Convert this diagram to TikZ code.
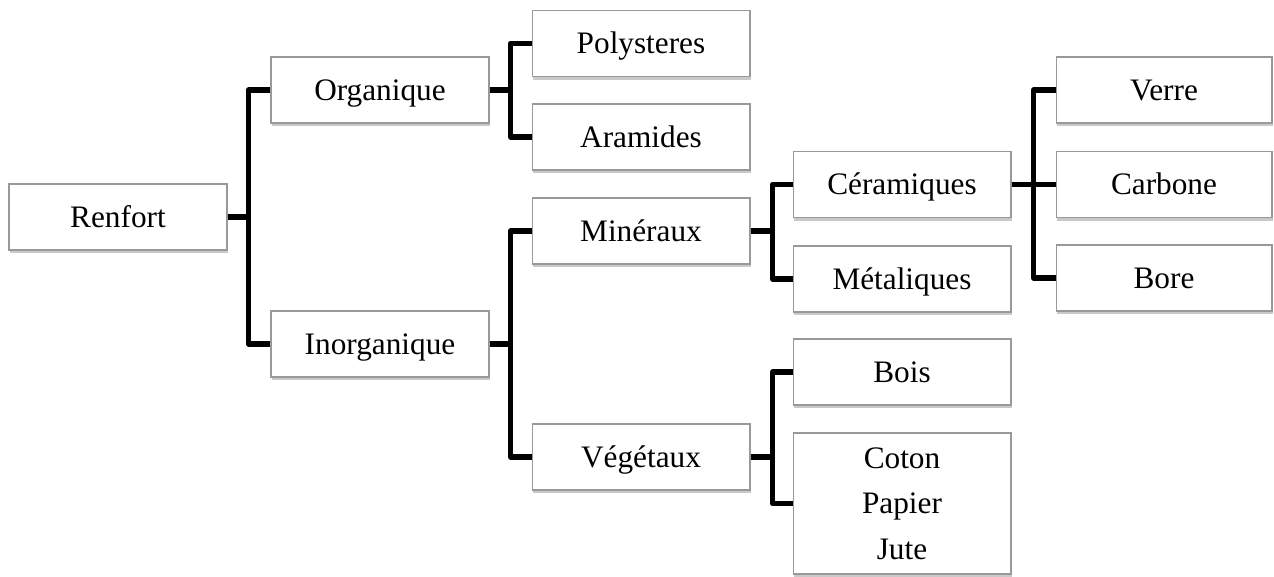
\documentclass[tikz,border=0pt]{standalone}
\usepackage{fontspec}
\setmainfont{Liberation Serif}
\usepackage{tikz}
\usetikzlibrary{shadows, calc}

\begin{document}
\begin{tikzpicture}[x=0.02cm, y=-0.02cm,
    font=\fontsize{17.8}{26}\selectfont,
    box/.style={draw=black!40, line width=0.6pt, fill=white, minimum width=4.36cm, minimum height=1.32cm,
        text height=11.8pt, text depth=0pt,
        drop shadow={shadow xshift=0.7pt, shadow yshift=-1.8pt, opacity=0.3, fill=black!70}},
    link/.style={line width=3.1pt, line join=round}
]
    \useasboundingbox (0,0) rectangle (1274,577);

    \node[box] (renfort) at (118,217) {Renfort};

    \node[box] (org) at (380,90) {Organique};
    \node[box] (inorg) at (380,344) {Inorganique};

    \node[box] (poly) at (641,43.5) {Polysteres};
    \node[box] (aram) at (641,137) {Aramides};
    \node[box] (miner) at (641,231) {Minéraux};
    \node[box] (veget) at (641,457) {Végétaux};

    \node[box] (ceram) at (902,184.5) {Céramiques};
    \node[box] (metal) at (902,279) {Métaliques};
    \node[box] (bois) at (902,372) {Bois};
    \node[box, text height=, text depth=, align=center, minimum height=2.82cm] (coton) at (902,503.5) {Coton\\Papier\\Jute};

    \node[box, minimum width=4.32cm] (verre) at (1164,90) {Verre};
    \node[box, minimum width=4.32cm] (carb) at (1164,184.5) {Carbone};
    \node[box, minimum width=4.32cm] (bore) at (1164,278) {Bore};

    % brackets
    \draw[link] (renfort.east) -- ++(21,0) |- (org.west);
    \draw[link] (renfort.east) -- ++(21,0) |- (inorg.west);

    \draw[link] (org.east) -- ++(21,0) |- (poly.west);
    \draw[link] (org.east) -- ++(21,0) |- (aram.west);
    \draw[link] (inorg.east) -- ++(21,0) |- (miner.west);
    \draw[link] (inorg.east) -- ++(21,0) |- (veget.west);

    \draw[link] (miner.east) -- ++(22,0) |- (ceram.west);
    \draw[link] (miner.east) -- ++(22,0) |- (metal.west);
    \draw[link] (veget.east) -- ++(22,0) |- (bois.west);
    \draw[link] (veget.east) -- ++(22,0) |- (coton.west);

    \draw[link] (ceram.east) -- ++(22,0) |- (verre.west);
    \draw[link] (ceram.east) -- (carb.west);
    \draw[link] (ceram.east) -- ++(22,0) |- (bore.west);
\end{tikzpicture}
\end{document}
